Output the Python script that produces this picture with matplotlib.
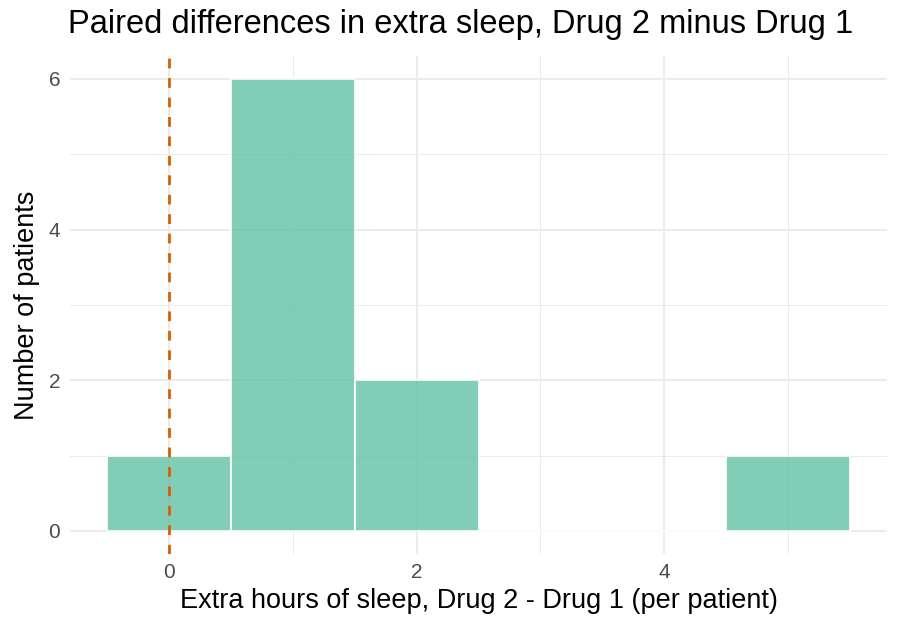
import numpy as np
import matplotlib.pyplot as plt

plt.rcParams['font.family'] = ['Liberation Sans', 'DejaVu Sans']

# histogram of paired differences (bin width 1, centred on integers)
bin_centers = [0, 1, 2, 3, 4, 5]
counts = [1, 6, 2, 0, 0, 1]
bin_width = 1.0
ref_line = 0

x_ticks = [0, 2, 4]
y_ticks = [0, 2, 4, 6]

fig = plt.figure(figsize=(9, 6.3), dpi=100)
ax = fig.add_axes([0.0778, 0.1213, 0.9078, 0.7892])

ax.bar(bin_centers, counts, width=bin_width, color='#66c2a5', alpha=0.82,
       edgecolor='white', linewidth=1.5, zorder=2)
ax.axvline(ref_line, color='#d95f02', linestyle=(0, (3.5, 3.5)), linewidth=2.0, zorder=3)

ax.set_xlim(-0.8, 5.8)
ax.set_ylim(-0.3, 6.3)
ax.set_xticks(x_ticks)
ax.set_yticks(y_ticks)
ax.set_xticks([1, 3, 5], minor=True)
ax.set_yticks([1, 3, 5], minor=True)
ax.grid(which='major', color='#ebebeb', linewidth=1.4, zorder=0)
ax.grid(which='minor', color='#ebebeb', linewidth=0.7, zorder=0)
ax.set_axisbelow(True)
for s in ax.spines.values():
    s.set_visible(False)
ax.tick_params(which='both', length=0, labelsize=15, labelcolor='#4d4d4d', pad=7)

ax.set_xlabel('Extra hours of sleep, Drug 2 - Drug 1 (per patient)', fontsize=19.5, labelpad=4)
ax.set_ylabel('Number of patients', fontsize=19.5, labelpad=6)
fig.text(0.0756, 0.9615, 'Paired differences in extra sleep, Drug 2 minus Drug 1',
         fontsize=23.5, ha='left', va='center')

fig.savefig('out.png', dpi=100)
